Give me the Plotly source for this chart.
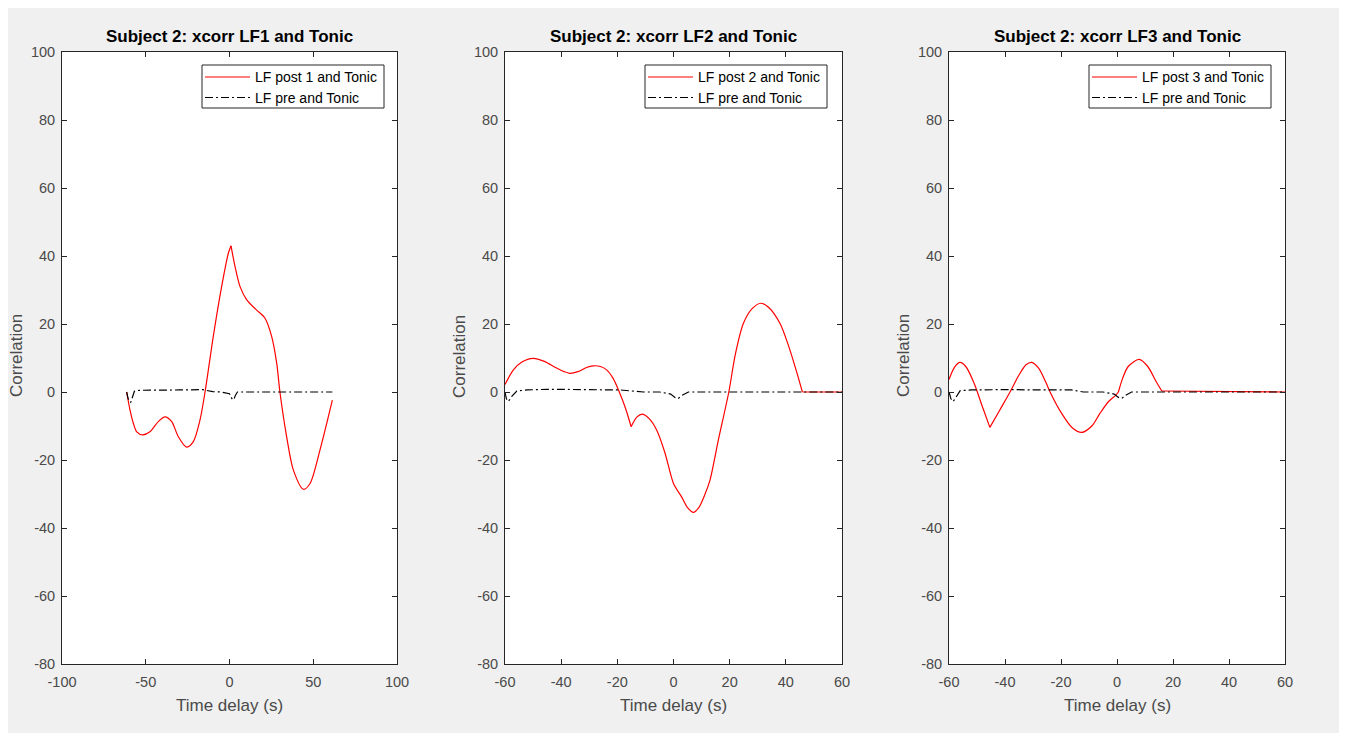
import plotly.graph_objects as go

W, H = 1347, 733

titles = ["Subject 2: xcorr LF1 and Tonic", "Subject 2: xcorr LF2 and Tonic", "Subject 2: xcorr LF3 and Tonic"]
red_names = ["LF post 1 and Tonic", "LF post 2 and Tonic", "LF post 3 and Tonic"]
black_name = "LF pre and Tonic"
x_label = "Time delay (s)"
y_label = "Correlation"
x_ranges = [[-100, 100], [-60, 60], [-60, 60]]
x_ticks = [[-100, -50, 0, 50, 100], [-60, -40, -20, 0, 20, 40, 60], [-60, -40, -20, 0, 20, 40, 60]]
y_ticks = [-80, -60, -40, -20, 0, 20, 40, 60, 80, 100]

# Panel 1
p1_red_x = [-61.4, -59.4, -57.4, -55.4, -51.8, -47.5, -42.5, -38.5, -34.5, -30.6, -25.6, -21.6, -17.6,
            -14.6, -9.7, -4.7, -0.7, 0.9, 3.3, 6.3, 10.3, 16.2, 21.2, 25.2, 28.2, 30.1, 34.1, 38.1,
            44.1, 48.1, 54.0, 61.4]
p1_red_y = [0.0, -5.3, -9.2, -11.7, -12.6, -11.7, -8.7, -7.3, -8.7, -13.1, -16.2, -14.6, -8.2,
            0.0, 16.3, 31.0, 40.8, 43.0, 36.9, 31.0, 27.1, 24.1, 21.7, 16.3, 8.4, 0.0, -13.1, -22.9,
            -28.6, -26.9, -17.1, -2.4]
p1_red_kinks = [17]
p1_blk_x = [-61.4, -60.5, -59.0, -57.5, -56.8, -54, -45, -30, -16, -10, -5, 0, 1.5, 2.5, 3.5, 4.7, 61.4]
p1_blk_y = [0.0, -2.0, -3.1, -1.0, 0.2, 0.5, 0.6, 0.6, 0.7, 0.1, 0.0, -0.5, -2.0, -2.3, -1.0, 0.0, 0.0]

# Panel 2
p2_red_x = [-60, -57, -54, -50, -46, -42, -39, -37, -34, -31, -28.6, -26, -23.8, -21.5, -19.3, -17,
            -15.1, -13, -11, -8.5, -6, -3, 0, 3, 5, 7.1, 9, 11, 13, 16, 19.7, 22, 24.9, 28, 31.1,
            34, 37.9, 41, 44, 45.9, 60]
p2_red_y = [2.2, 6.5, 8.8, 9.9, 9.0, 7.2, 6.0, 5.5, 6.0, 7.2, 7.7, 7.5, 6.5, 4.0, 0.0, -5.0,
            -10.2, -7.3, -6.5, -8.0, -11.2, -18.0, -26.9, -31.0, -34.0, -35.4, -34.0, -30.5, -25.9,
            -14.0, 0.0, 11.0, 20.2, 24.5, 26.1, 24.8, 20.2, 13.5, 5.5, 0.0, 0.0]
p2_red_kinks = [16, 39]
p2_blk_x = [-60, -59.5, -58.8, -57.5, -55.8, -52, -45, -35, -19, -10.7, -5, -1, 0.5, 1.7, 3, 5.3, 60]
p2_blk_y = [0.0, -2.0, -2.8, -1.2, 0.3, 0.6, 0.8, 0.7, 0.6, 0.0, 0.0, -0.6, -1.6, -1.9, -1.0, 0.0, 0.0]

# Panel 3
p3_red_x = [-60, -58, -56.1, -54, -51, -48, -45.4, -42, -38.2, -35, -32.5, -30.5, -28, -25.5, -23.9,
            -20, -16, -12.6, -9, -6.1, -3, -0.5, 0.5, 2, 4, 7.9, 11, 14, 16, 60]
p3_red_y = [3.7, 7.3, 8.7, 7.5, 2.5, -4.5, -10.4, -5.5, 0.0, 5.0, 8.0, 8.7, 7.0, 3.0, 0.0,
            -6.0, -10.5, -11.9, -10.0, -6.3, -2.8, -1.0, 0.0, 4.0, 7.5, 9.6, 7.5, 3.0, 0.3, 0.0]
p3_red_kinks = [6, 22, 28]
p3_blk_x = [-60, -59.3, -58.5, -57.2, -56, -52, -40, -25, -16.2, -12, -5, -1, 0.5, 1.7, 3, 5.2, 60]
p3_blk_y = [0.0, -2.0, -2.8, -1.2, 0.4, 0.6, 0.7, 0.6, 0.6, 0.0, 0.0, -0.6, -1.6, -1.9, -1.0, 0.0, 0.0]

red_x = [p1_red_x, p2_red_x, p3_red_x]
red_y = [p1_red_y, p2_red_y, p3_red_y]
red_kinks = [p1_red_kinks, p2_red_kinks, p3_red_kinks]
blk_x = [p1_blk_x, p2_blk_x, p3_blk_x]
blk_y = [p1_blk_y, p2_blk_y, p3_blk_y]

FONT = "Liberation Sans, Arial, Helvetica, sans-serif"
AX = "#262626"
TXT = "#4a4a4a"
RED = "#ff0000"
DASHDOT = "8px,3px,2px,3px"

# pixel layout (page is offset by the 8px body margin)
OFF = 8
px_left = [62 - OFF, 505 - OFF, 949 - OFF]
px_right = [397 - OFF, 842 - OFF, 1285 - OFF]
px_top, px_bot = 52 - OFF, 664 - OFF
leg_left = [202 - OFF, 645 - OFF, 1089 - OFF]
leg_w = 182
leg_top, leg_bot = 65 - OFF, 108 - OFF
leg_rows = [77 - OFF, 97.5 - OFF]


def px_x(p):
    return p / W


def px_y(p):
    return 1 - p / H


fig = go.Figure()
for i in range(3):
    xa = "x" if i == 0 else f"x{i+1}"
    ya = "y" if i == 0 else f"y{i+1}"
    cuts = [0] + red_kinks[i] + [len(red_x[i]) - 1]
    for k in range(len(cuts) - 1):
        a, b = cuts[k], cuts[k + 1]
        fig.add_trace(go.Scatter(x=red_x[i][a:b + 1], y=red_y[i][a:b + 1], mode="lines",
                                 name=red_names[i], showlegend=False,
                                 line=dict(color=RED, width=1.2, shape="spline", smoothing=0.8),
                                 xaxis=xa, yaxis=ya))
    fig.add_trace(go.Scatter(x=blk_x[i], y=blk_y[i], mode="lines", name=black_name, showlegend=False,
                             line=dict(color="#000000", width=1.2, dash=DASHDOT),
                             xaxis=xa, yaxis=ya))

shapes = []
annotations = []
layout = dict(
    width=W, height=H,
    paper_bgcolor="#f0f0f0", plot_bgcolor="#ffffff",
    margin=dict(l=0, r=0, t=0, b=0, autoexpand=False),
    font=dict(family=FONT, color=TXT, size=13),
    showlegend=False,
)
for i in range(3):
    sx = "" if i == 0 else str(i + 1)
    layout["xaxis" + sx] = dict(
        domain=[px_x(px_left[i]), px_x(px_right[i])], range=x_ranges[i],
        tickvals=x_ticks[i], ticktext=[str(v) for v in x_ticks[i]],
        anchor="y" + sx, showline=True, linecolor=AX, linewidth=1, mirror="ticks",
        ticks="inside", ticklen=5, tickcolor=AX, showgrid=False, zeroline=False,
        tickfont=dict(size=14.5, color=TXT), automargin=False, ticklabelstandoff=5,
    )
    layout["yaxis" + sx] = dict(
        domain=[px_y(px_bot), px_y(px_top)], range=[-80, 100],
        tickvals=y_ticks, ticktext=[str(v) for v in y_ticks],
        anchor="x" + sx, showline=True, linecolor=AX, linewidth=1, mirror="ticks",
        ticks="inside", ticklen=5, tickcolor=AX, showgrid=False, zeroline=False,
        tickfont=dict(size=14.5, color=TXT), automargin=False, ticklabelstandoff=3,
    )
    # legend box
    lx0 = leg_left[i]
    shapes.append(dict(type="rect", xref="paper", yref="paper",
                       x0=px_x(lx0), x1=px_x(lx0 + leg_w), y0=px_y(leg_bot), y1=px_y(leg_top),
                       fillcolor="#ffffff", line=dict(color=AX, width=1), layer="above"))
    for r, (nm, col, dash) in enumerate([(red_names[i], RED, "solid"), (black_name, "#000000", DASHDOT)]):
        shapes.append(dict(type="line", xref="paper", yref="paper",
                           x0=px_x(lx0 + 3), x1=px_x(lx0 + 48), y0=px_y(leg_rows[r]), y1=px_y(leg_rows[r]),
                           line=dict(color=col, width=1.2, dash=dash), layer="above"))
        annotations.append(dict(text=nm, xref="paper", yref="paper", x=px_x(lx0 + 51), y=px_y(leg_rows[r]),
                                xanchor="left", yanchor="middle", showarrow=False,
                                font=dict(size=14, color="#000000", family=FONT)))
    cx = px_x((px_left[i] + px_right[i]) / 2)
    annotations.append(dict(
        text="<b>" + titles[i] + "</b>", xref="paper", yref="paper",
        x=cx, y=px_y(37 - OFF), xanchor="center", yanchor="middle",
        showarrow=False, font=dict(size=17, color="#000000", family=FONT),
    ))
    annotations.append(dict(
        text=x_label, xref="paper", yref="paper",
        x=cx, y=px_y(705 - OFF), xanchor="center", yanchor="middle",
        showarrow=False, font=dict(size=17, color=TXT, family=FONT),
    ))
    annotations.append(dict(
        text=y_label, xref="paper", yref="paper", textangle=-90,
        x=px_x(px_left[i] - 46), y=px_y(356 - OFF), xanchor="center", yanchor="middle",
        showarrow=False, font=dict(size=17, color=TXT, family=FONT),
    ))

layout["shapes"] = shapes
layout["annotations"] = annotations
fig.update_layout(**layout)
fig.write_html("out.html")
